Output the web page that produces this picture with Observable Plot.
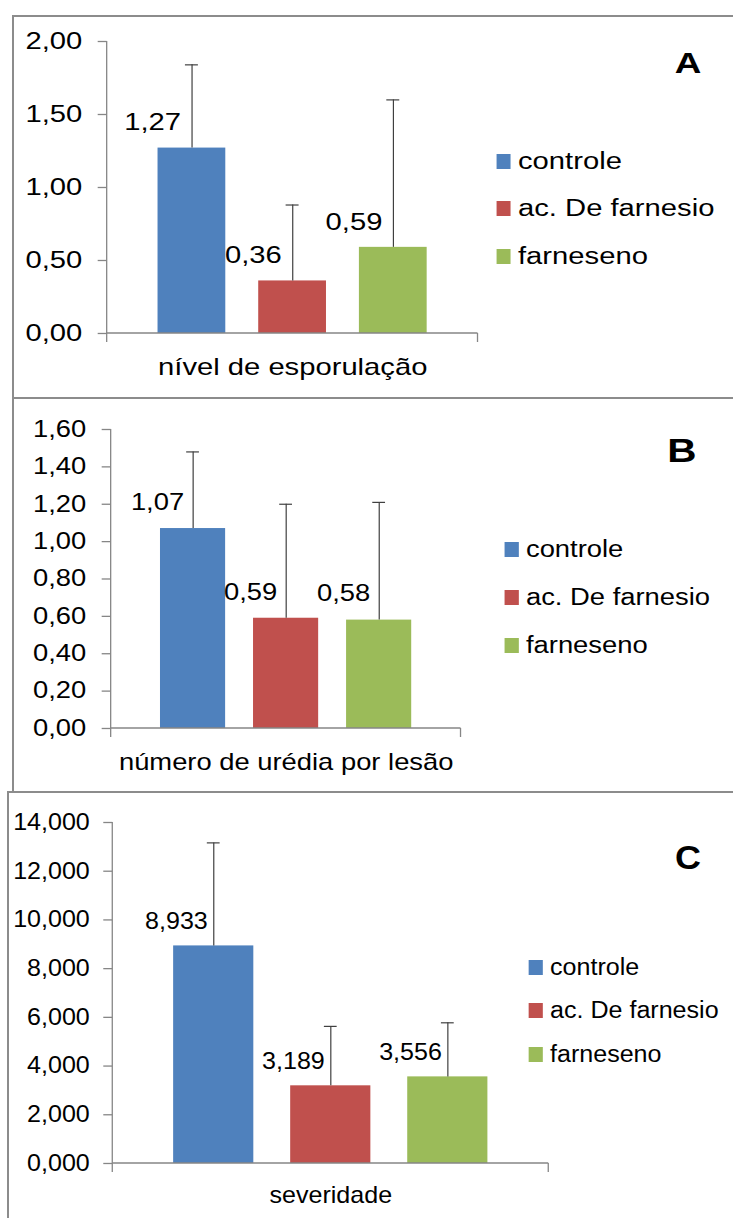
<!DOCTYPE html>
<html><head><meta charset="utf-8">
<script src="https://cdn.jsdelivr.net/npm/d3@7"></script>
<script src="https://cdn.jsdelivr.net/npm/@observablehq/plot@0.6"></script>
<style>
html,body{margin:0;padding:0;background:#fff;}
body{width:733px;height:1218px;overflow:hidden;position:relative;font-family:"Liberation Sans",Arial,sans-serif;}
.border{position:absolute;border:2px solid #8c8c8c;box-sizing:border-box;}
.panel{position:absolute;left:0;transform-origin:0 0;}
.panel svg{position:absolute;left:0;top:0;overflow:visible;background:transparent;}
.item{position:absolute;left:0;display:flex;align-items:center;height:24px;font-size:23px;line-height:1;color:#000;white-space:nowrap;}
.sw{display:inline-block;height:15px;flex:none;}
.letter{position:absolute;font-weight:bold;line-height:1;color:#000;transform:translate(-50%,-49%);}
</style></head><body>
<div class="border" style="left:12px;top:15px;width:740px;height:384px;"></div>
<div class="border" style="left:12px;top:397px;width:740px;height:396px;"></div>
<div class="border" style="left:7px;top:791px;width:745px;height:440px;"></div>
<script>
// ---- data ----
const series = ["controle", "ac. De farnesio", "farneseno"];
const seriesColors = ["#4F81BD", "#C0504D", "#9BBB59"];

const categoryA = "nível de esporulação";
const valuesA = [1.27, 0.36, 0.59];
const sdA = [0.57, 0.52, 1.01];
const ticksA = [0, 0.5, 1, 1.5, 2];

const categoryB = "número de urédia por lesão";
const valuesB = [1.07, 0.59, 0.58];
const sdB = [0.41, 0.61, 0.63];
const ticksB = [0, 0.2, 0.4, 0.6, 0.8, 1.0, 1.2, 1.4, 1.6];

const categoryC = "severidade";
const valuesC = [8.933, 3.189, 3.556];
const sdC = [4.23, 2.44, 2.22];
const ticksC = [0, 2, 4, 6, 8, 10, 12, 14];

const panelLetters = ["A", "B", "C"];

// ---- layout (page pixels; s = horizontal stretch of each panel) ----
const layouts = [
  {top:16, height:382, s:1.27, mL:106, mR:256, mT:25, mB:65, dec:2, tickPad:16, titlePad:25, labelDx:-11, labelDy:-25, pi:0.327, po:0.505, legX:497, legY:161, legStep:47.5, letterX:688, letterY:63, letterSize:29},
  {top:398, height:394, s:1.19, mL:110, mR:272, mT:31, mB:64, dec:2, tickPad:16, titlePad:25, labelDx:-9, labelDy:-26, pi:0.30, po:0.53, legX:505, legY:549, legStep:48, letterX:682, letterY:450, letterSize:34},
  {top:792, height:426, s:1.09, mL:112, mR:184, mT:30, mB:55, dec:3, tickPad:14, titlePad:23, labelDx:-6, labelDy:-24, pi:0.315, po:0.52, legX:529, legY:967, legStep:43.5, letterX:688, letterY:857, letterSize:33}
];

function drawPanel(p, cat, values, sds, ticks, letter) {
  const s = p.s;
  const fmt = v => v.toFixed(p.dec).replace(".", ",");
  const rows = series.map((name, i) => ({cat, name, value: values[i], upper: values[i] + sds[i]}));
  const W = 733 / s;
  const mL = p.mL / s, mR = p.mR / s;
  const innerW = W - mL - mR;
  const step = innerW / (series.length - p.pi + 2 * p.po);
  const bw = step * (1 - p.pi);
  const cap = 13 / s;
  const capInset = (bw - cap) / 2;
  const ymax = ticks[ticks.length - 1];
  const ext = 9;

  const axisLines = (index, scales, values, dims) => {
    const y = scales.y;
    const x0 = dims.marginLeft, x1 = dims.width - dims.marginRight;
    const y0 = y(0), yt = y(ymax);
    const g = d3.create("svg:g").attr("stroke", "#868686").attr("fill", "none");
    g.append("line").attr("x1", x0).attr("x2", x0).attr("y1", yt).attr("y2", y0 + ext).attr("stroke-width", 1.3 / s);
    g.append("line").attr("x1", x0).attr("x2", x1).attr("y1", y0).attr("y2", y0).attr("stroke-width", 1.3);
    g.append("line").attr("x1", x1).attr("x2", x1).attr("y1", y0).attr("y2", y0 + ext).attr("stroke-width", 1.3 / s);
    return g.node();
  };

  const chart = Plot.plot({
    width: W, height: p.height,
    marginLeft: mL, marginRight: mR, marginTop: p.mT, marginBottom: p.mB,
    style: {fontFamily: "'Liberation Sans', Arial, sans-serif", fontSize: "23px", color: "#000", background: "transparent", overflow: "visible"},
    fx: {domain: [cat], padding: 0, axis: "bottom", label: null, tickSize: 0, tickPadding: p.titlePad},
    x: {domain: series, paddingInner: p.pi, paddingOuter: p.po, round: false, axis: null},
    y: {domain: [0, ymax], axis: null},
    color: {domain: series, range: seriesColors},
    marks: [
      Plot.axisY({ticks, tickFormat: fmt, tickSize: ext / s, tickPadding: p.tickPad / s, stroke: "#868686", fill: "#000", strokeWidth: 1.3, fontSize: 23}),
      Plot.barY(rows, {fx: "cat", x: "name", y: "value", fill: "name"}),
      Plot.ruleX(rows, {fx: "cat", x: "name", y1: "value", y2: "upper", stroke: "#404040", strokeWidth: 1.2 / s}),
      Plot.tickY(rows, {fx: "cat", x: "name", y: "upper", stroke: "#404040", strokeWidth: 1.2, insetLeft: capInset, insetRight: capInset}),
      Plot.text(rows, {fx: "cat", x: "name", y: "value", text: d => fmt(d.value), textAnchor: "end", dx: p.labelDx / s, dy: p.labelDy, fill: "#000", fontSize: 23}),
      axisLines
    ]
  });

  const panel = document.createElement("div");
  panel.className = "panel";
  panel.style.top = p.top + "px";
  panel.style.width = W + "px";
  panel.style.height = p.height + "px";
  panel.style.transform = `scaleX(${s})`;
  panel.appendChild(chart);

  series.forEach((name, i) => {
    const item = document.createElement("div");
    item.className = "item";
    item.style.left = (p.legX / s) + "px";
    item.style.top = (p.legY + i * p.legStep - p.top - 12) + "px";
    const sw = document.createElement("span");
    sw.className = "sw";
    sw.style.width = (14 / s) + "px";
    sw.style.marginRight = (7 / s) + "px";
    sw.style.background = seriesColors[i];
    const tx = document.createElement("span");
    tx.textContent = name;
    item.appendChild(sw);
    item.appendChild(tx);
    panel.appendChild(item);
  });

  const lt = document.createElement("div");
  lt.className = "letter";
  lt.textContent = letter;
  lt.style.left = (p.letterX / s) + "px";
  lt.style.top = (p.letterY - p.top) + "px";
  lt.style.fontSize = p.letterSize + "px";
  panel.appendChild(lt);

  document.body.appendChild(panel);
}

drawPanel(layouts[0], categoryA, valuesA, sdA, ticksA, panelLetters[0]);
drawPanel(layouts[1], categoryB, valuesB, sdB, ticksB, panelLetters[1]);
drawPanel(layouts[2], categoryC, valuesC, sdC, ticksC, panelLetters[2]);
</script></body></html>
